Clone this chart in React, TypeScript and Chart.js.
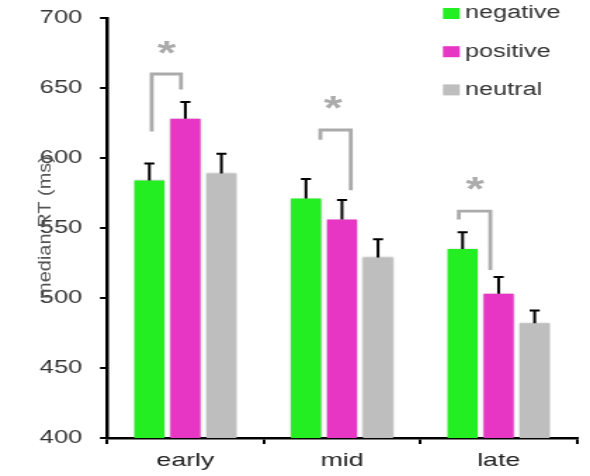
import React, { useEffect, useRef } from 'react';
import { Chart, registerables } from 'chart.js';

Chart.register(...registerables);

const categories = ['early', 'mid', 'late'];
const seriesNames = ['negative', 'positive', 'neutral'];
const negativeValues = [584, 571, 535];
const positiveValues = [628, 556, 503];
const neutralValues = [589, 529, 482];
const negativeErrors = [12, 14, 12];
const positiveErrors = [12, 14, 12];
const neutralErrors = [14, 13, 9];
const yTicks = [400, 450, 500, 550, 600, 650, 700];
const yTitle = 'median RT (ms)';

// significance brackets (x in category units, y in ms)
const bracketLeftX = [-0.215, 0.862, 1.746];
const bracketRightX = [-0.028, 1.056, 1.947];
const bracketTopY = [660, 620, 562];
const bracketLeftEndY = [619, 613, 556];
const bracketRightEndY = [649, 577, 520];
const starX = [-0.12, 0.944, 1.848];
const starY = [679, 640, 582];
const starText = '*';

const colors = ['#22EE22', '#E836C4', '#BEBEBE'];
const FONT = "'Liberation Sans', Arial, sans-serif";

const INTERNAL_W = 420;
const H = 476;

export default function App() {
  const ref = useRef<HTMLCanvasElement | null>(null);

  useEffect(() => {
    document.body.style.margin = '0';
    document.body.style.overflow = 'hidden';
    const canvas = ref.current;
    if (!canvas) return;
    const errors = [negativeErrors, positiveErrors, neutralErrors];

    const overlay = {
      id: 'overlay',
      beforeDatasetsDraw(chart: any) {
        const ctx = chart.ctx as CanvasRenderingContext2D;
        ctx.save();
        ctx.shadowColor = 'rgba(0,0,0,0.22)';
        ctx.shadowBlur = 2;
      },
      afterDatasetsDraw(chart: any) {
        const ctx = chart.ctx as CanvasRenderingContext2D;
        ctx.restore();
        const xs = chart.scales.x;
        const ys = chart.scales.y;
        ctx.save();
        // error bars
        ctx.strokeStyle = '#000';
        ctx.lineWidth = 2;
        ctx.lineCap = 'butt';
        errors.forEach((errs, i) => {
          const meta = chart.getDatasetMeta(i);
          meta.data.forEach((bar: any, j: number) => {
            const v = chart.data.datasets[i].data[j] as number;
            const top = ys.getPixelForValue(v + errs[j]);
            ctx.beginPath();
            ctx.moveTo(bar.x, bar.y);
            ctx.lineTo(bar.x, top);
            ctx.moveTo(bar.x - 3.6, top);
            ctx.lineTo(bar.x + 3.6, top);
            ctx.stroke();
          });
        });
        // brackets
        ctx.strokeStyle = '#ABABAB';
        ctx.lineWidth = 2.8;
        ctx.lineJoin = 'miter';
        for (let k = 0; k < bracketLeftX.length; k++) {
          const xl = xs.getPixelForValue(bracketLeftX[k]);
          const xr = xs.getPixelForValue(bracketRightX[k]);
          const yt = ys.getPixelForValue(bracketTopY[k]);
          ctx.beginPath();
          ctx.moveTo(xl, ys.getPixelForValue(bracketLeftEndY[k]));
          ctx.lineTo(xl, yt);
          ctx.lineTo(xr, yt);
          ctx.lineTo(xr, ys.getPixelForValue(bracketRightEndY[k]));
          ctx.stroke();
        }
        // stars
        ctx.fillStyle = '#ABABAB';
        ctx.font = `bold 34px ${FONT}`;
        ctx.textAlign = 'center';
        ctx.textBaseline = 'alphabetic';
        const m = ctx.measureText(starText);
        const off = (m.actualBoundingBoxAscent - m.actualBoundingBoxDescent) / 2;
        for (let k = 0; k < starX.length; k++) {
          ctx.fillText(starText, xs.getPixelForValue(starX[k]), ys.getPixelForValue(starY[k]) + off);
        }
        ctx.restore();
      },
      afterDraw(chart: any) {
        const ctx = chart.ctx as CanvasRenderingContext2D;
        ctx.save();
        // legend
        const ds = chart.data.datasets;
        ctx.font = `18px ${FONT}`;
        ctx.textBaseline = 'middle';
        ctx.textAlign = 'left';
        for (let i = 0; i < ds.length; i++) {
          const cy = 13.5 + i * 38.2;
          ctx.fillStyle = ds[i].backgroundColor;
          ctx.fillRect(315.3, cy - 5.5, 12, 11);
          ctx.fillStyle = '#333';
          ctx.fillText(ds[i].label, 331, cy);
        }
        // y-axis title
        ctx.translate(35.6, 227.5);
        ctx.scale(0.67, 1);
        ctx.rotate(-Math.PI / 2);
        ctx.font = `20px ${FONT}`;
        ctx.textAlign = 'center';
        ctx.textBaseline = 'alphabetic';
        ctx.fillStyle = '#555';
        ctx.fillText(yTitle, 0, 0);
        ctx.restore();
      },
    };

    const chart = new Chart(canvas, {
      type: 'bar',
      data: {
        labels: categories,
        datasets: [
          { label: seriesNames[0], data: negativeValues, backgroundColor: colors[0] },
          { label: seriesNames[1], data: positiveValues, backgroundColor: colors[1] },
          { label: seriesNames[2], data: neutralValues, backgroundColor: colors[2] },
        ],
      },
      options: {
        responsive: false,
        animation: false,
        devicePixelRatio: 1,
        layout: { padding: { top: 18, right: 9.3, left: 0, bottom: 0 } },
        datasets: { bar: { categoryPercentage: 0.69, barPercentage: 0.835, borderWidth: 0 } },
        plugins: { legend: { display: false }, tooltip: { enabled: false } },
        scales: {
          x: {
            offset: true,
            afterFit: (s: any) => {
              s.height = H - 438;
              s.paddingLeft = 0;
              s.paddingRight = 0;
            },
            grid: {
              offset: true,
              drawOnChartArea: false,
              drawTicks: true,
              tickLength: 6,
              color: '#000',
              lineWidth: 2,
            },
            border: { display: true, color: '#000', width: 2.5 },
            ticks: { color: '#222', font: { family: FONT, size: 19 }, padding: 5 },
          },
          y: {
            min: 400,
            max: 700,
            afterFit: (s: any) => {
              s.width = 76.2;
              s.paddingTop = 0;
              s.paddingBottom = 0;
            },
            afterBuildTicks: (s: any) => { s.ticks = yTicks.map((v) => ({ value: v })); },
            grid: {
              drawOnChartArea: false,
              drawTicks: true,
              tickLength: 5,
              color: '#000',
              lineWidth: 2,
            },
            border: { display: true, color: '#000', width: 2.5 },
            ticks: { color: '#333', font: { family: FONT, size: 18 }, padding: 12.8 },
          },
        },
      },
      plugins: [overlay],
    } as any);

    return () => chart.destroy();
  }, []);

  return (
    <canvas
      ref={ref}
      width={INTERNAL_W}
      height={H}
      style={{ width: '590px', height: H + 'px', display: 'block' }}
    />
  );
}
